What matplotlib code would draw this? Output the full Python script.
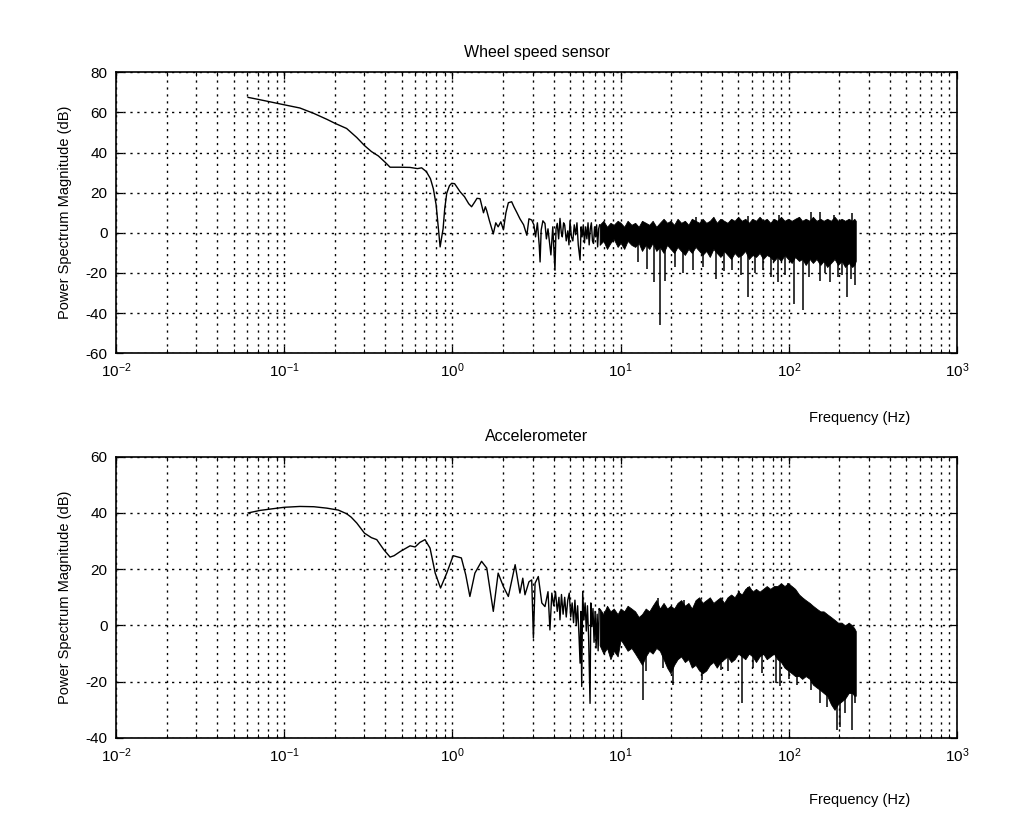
import numpy as np
import matplotlib
matplotlib.use("Agg")
import matplotlib.pyplot as plt
from matplotlib.ticker import LogLocator, FixedLocator

# -------- DATA --------
# smooth / sparse low-frequency part, wheel speed sensor
wheel_f = [0.061, 0.07, 0.08, 0.09, 0.10, 0.124, 0.15, 0.18, 0.20, 0.235,
           0.27, 0.30, 0.33, 0.363, 0.40, 0.426, 0.49, 0.56, 0.62, 0.656,
           0.70, 0.74, 0.77, 0.80, 0.83, 0.845, 0.86, 0.88, 0.90, 0.925,
           0.96, 0.99, 1.03, 1.06, 1.11, 1.18, 1.25, 1.30, 1.36, 1.40,
           1.46, 1.53, 1.57, 1.60, 1.66, 1.75, 1.81, 1.87, 1.94, 2.01,
           2.08, 2.15, 2.25, 2.32, 2.42, 2.52, 2.65, 2.77, 2.85, 2.96,
           3.05, 3.12, 3.20, 3.28, 3.32, 3.37, 3.45, 3.55, 3.62, 3.70,
           3.78, 3.85, 3.95, 4.07, 4.13, 4.20, 4.28, 4.36, 4.44, 4.50,
           4.58, 4.65, 4.75, 4.85, 4.93, 5.00, 5.10, 5.20, 5.30, 5.40,
           5.50, 5.60, 5.74, 5.82, 5.90, 6.00, 6.10, 6.20, 6.30, 6.40,
           6.50, 6.60, 6.70, 6.80, 6.90, 7.00, 7.10, 7.20, 7.30, 7.40,
           7.50]
wheel_db = [67.5, 66.5, 65.5, 64.6, 63.8, 62.2, 59.5, 56.5, 54.6, 52.0,
            47.5, 43.5, 40.5, 38.3, 35.0, 32.7, 32.7, 32.6, 32.0, 32.4,
            30.5, 27.0, 22.0, 14.0, 0.0, -7.0, -3.0, 2.0, 12.0, 19.7,
            23.5, 24.7, 24.5, 23.0, 20.5, 18.0, 14.5, 13.0, 15.5, 17.2,
            17.0, 10.0, 13.0, 11.0, 6.0, -0.5, 5.0, 3.0, 5.5, 1.5,
            10.0, 15.0, 15.5, 13.0, 10.0, 7.0, 4.0, -1.2, 7.0, 6.4,
            4.0, -2.0, 5.0, -6.0, -14.5, 1.4, 6.0, 4.7, -3.0, 2.0,
            -5.0, -11.0, 3.0, -18.6, 2.0, 4.7, -3.0, 7.2, 0.0, -2.0,
            5.0, 3.9, -4.0, 1.0, -6.0, 6.0, -2.0, -4.0, 4.0, -1.0,
            5.0, -6.0, -13.6, 3.0, -2.0, 4.0, -5.0, 3.0, -3.0, 5.0,
            -6.0, 2.0, 5.0, -4.0, -5.3, 3.0, -2.0, 4.0, -7.0, 2.0,
            4.0]

# smooth / sparse low-frequency part, accelerometer
accel_f = [0.061, 0.072, 0.086, 0.10, 0.124, 0.15, 0.179, 0.21, 0.235, 0.25,
           0.27, 0.30, 0.33, 0.355, 0.39, 0.426, 0.45, 0.49, 0.56, 0.60,
           0.64, 0.687, 0.736, 0.79, 0.85, 0.925, 1.01, 1.13, 1.20, 1.27,
           1.36, 1.49, 1.60, 1.68, 1.75, 1.87, 2.01, 2.15, 2.36, 2.52,
           2.62, 2.70, 2.85, 2.96, 3.03, 3.10, 3.24, 3.40, 3.55, 3.70,
           3.80, 3.90, 4.00, 4.10, 4.20, 4.30, 4.36, 4.45, 4.55, 4.65,
           4.75, 4.85, 4.95, 5.05, 5.15, 5.25, 5.35, 5.45, 5.55, 5.65,
           5.74, 5.80, 5.87, 5.95, 6.05, 6.15, 6.25, 6.35, 6.45, 6.58,
           6.65, 6.75, 6.85, 6.95, 7.05, 7.15, 7.25, 7.35, 7.45, 7.50]
accel_db = [40.0, 40.9, 41.5, 42.0, 42.3, 42.2, 41.7, 41.0, 39.7, 38.5,
            36.4, 32.8, 31.2, 30.5, 27.0, 24.3, 24.8, 26.3, 28.3, 27.9,
            29.5, 30.5, 27.5, 18.6, 13.3, 18.6, 24.8, 24.0, 18.0, 10.3,
            18.6, 22.8, 20.4, 12.0, 5.0, 18.6, 13.8, 10.3, 21.6, 11.5,
            16.8, 10.9, 15.5, 16.2, -4.5, 15.0, 17.4, 8.0, 6.7, 12.0,
            -1.6, 11.5, 7.0, 12.0, 5.0, 10.0, 2.0, 11.0, 4.0, 10.0,
            3.0, 9.0, 11.5, 3.0, 8.0, 1.0, 9.0, 0.0, 7.0, -3.0,
            -13.4, 5.0, -21.7, 12.1, 2.0, 8.0, -2.0, 7.0, -4.0, -27.7,
            8.0, -0.4, 6.0, -6.0, 5.0, -8.0, 4.0, -9.0, 6.0, 5.6]

# dense part: frequencies where the band's top and bottom edges were read
band_f = [7.5, 7.9, 8.3, 8.7, 9.1, 9.6, 10.0, 10.5, 11.0, 11.6,
          12.2, 12.8, 13.4, 14.1, 14.8, 15.5, 16.3, 17.1, 18.0, 18.9,
          19.8, 20.8, 21.8, 22.9, 24.1, 25.3, 26.5, 27.9, 29.3, 30.7,
          32.3, 33.9, 35.6, 37.3, 39.2, 41.2, 43.2, 45.4, 47.6, 50.0,
          52.5, 55.1, 57.9, 60.8, 63.8, 67.0, 70.4, 73.9, 77.6, 81.5,
          85.5, 89.8, 94.3, 99.0, 104, 109, 115, 120, 126, 133,
          139, 146, 154, 161, 169, 178, 187, 196, 206, 216,
          227, 238, 245, 250]

wheel_hi = [4, 6, 3, 5, 4, 6, 5, 3, 6, 4,
            5, 3, 6, 5, 4, 6, 3, 5, 7, 5,
            6, 4, 7, 5, 6, 4, 7, 6, 5, 7,
            5, 6, 8, 5, 7, 6, 5, 7, 6, 8,
            6, 7, 5, 7, 6, 8, 6, 7, 5, 7,
            6, 8, 6, 7, 6, 7, 8, 6, 7, 6,
            8, 6, 7, 6, 7, 6, 8, 6, 7, 6,
            7, 6, 7, 6]
wheel_lo = [-6, -4, -8, -5, -3, -7, -5, -8, -4, -6,
            -7, -5, -9, -6, -8, -5, -9, -7, -10, -6,
            -8, -10, -7, -9, -11, -8, -10, -7, -9, -11,
            -9, -12, -8, -10, -12, -9, -11, -13, -10, -12,
            -11, -9, -13, -11, -12, -10, -13, -11, -12, -14,
            -12, -14, -11, -13, -15, -12, -14, -13, -16, -13,
            -15, -13, -16, -14, -17, -15, -13, -16, -14, -17,
            -15, -17, -16, -14]

accel_hi = [6, 4, 7, 5, 6, 4, 6, 5, 7, 6,
            5, 3, 4, 6, 5, 7, 9, 6, 8, 6,
            7, 6, 8, 9, 7, 8, 6, 9, 10, 8,
            9, 10, 8, 9, 10, 8, 10, 11, 10, 12,
            11, 13, 14, 12, 13, 12, 13, 14, 13, 14,
            14, 15, 14, 15, 14, 13, 11, 10, 9, 8,
            7, 6, 5, 5, 4, 3, 2, 1, 1, 0,
            1, 0, -1, -2]
accel_lo = [-7, -10, -8, -12, -9, -11, -5, -7, -9, -8,
            -10, -12, -14, -11, -9, -10, -8, -9, -12, -15,
            -17, -14, -12, -11, -13, -12, -15, -14, -16, -17,
            -16, -14, -13, -15, -13, -12, -11, -13, -12, -10,
            -11, -12, -10, -11, -13, -11, -10, -12, -11, -10,
            -12, -13, -15, -16, -17, -18, -18, -19, -18, -19,
            -21, -22, -23, -24, -25, -28, -30, -28, -27, -26,
            -24, -24, -25, -25]

# isolated deep notches and peaks sticking out of the band
wheel_dip_f = [12.7, 14.3, 15.8, 17.2, 18.4, 21.0, 23.5, 26.9, 31.0, 36.7,
               41.0, 46.0, 52.0, 57.4, 63.0, 70.5, 78.0, 86.0, 95.0, 108,
               121, 132, 153, 165, 176, 195, 208, 222, 235, 248]
wheel_dip_db = [-14.5, -18, -24.5, -46, -24, -17, -20, -18.6, -17, -22.8,
                -19, -18.6, -21, -32, -20, -18.6, -22, -24.5, -21, -35.3,
                -38.6, -22, -24, -20, -24.5, -22, -21, -32, -23, -26]
wheel_peak_f = [28, 57, 88, 136, 153, 185, 237]
wheel_peak_db = [8, 8.5, 9, 10.5, 10.5, 9, 9.7]

accel_dip_f = [13.6, 14.1, 17.9, 20.4, 30.4, 39.5, 43.6, 52.6, 61, 69,
               83.5, 88.7, 100, 112, 136, 153, 168, 194, 201, 215,
               238, 248]
accel_dip_db = [-26.5, -16.3, -15, -21, -19.4, -16, -16.3, -27.7, -15, -17,
                -20.5, -21.7, -19, -21, -22.9, -27.7, -29, -37.2, -36, -31,
                -37.2, -27.7]
accel_peak_f = [16.6, 23.9, 50.3, 57, 92, 98.6]
accel_peak_db = [9.7, 9.1, 12.1, 13.8, 14.5, 15]

panels = [
    dict(title="Wheel speed sensor", f=wheel_f, db=wheel_db, hi=wheel_hi, lo=wheel_lo,
         dip_f=wheel_dip_f, dip_db=wheel_dip_db, peak_f=wheel_peak_f, peak_db=wheel_peak_db,
         base=0.0, ylim=(-60, 80), rect=[0.1133, 0.566, 0.8213, 0.3452], xlab_y=-0.205),
    dict(title="Accelerometer", f=accel_f, db=accel_db, hi=accel_hi, lo=accel_lo,
         dip_f=accel_dip_f, dip_db=accel_dip_db, peak_f=accel_peak_f, peak_db=accel_peak_db,
         base=-5.0, ylim=(-40, 60), rect=[0.1133, 0.0934, 0.8213, 0.3456], xlab_y=-0.195),
]
# -------------------------------------------------

plt.rcParams["font.family"] = ["Liberation Sans", "DejaVu Sans"]
plt.rcParams["axes.unicode_minus"] = False
plt.rcParams["mathtext.fontset"] = "custom"
plt.rcParams["mathtext.rm"] = "Liberation Sans"

fig = plt.figure(figsize=(10.24, 8.14), dpi=100, facecolor="white")
grid_style = dict(color="black", linestyle=(0, (1.6, 3.4)), linewidth=1.0)

for p in panels:
    ax = fig.add_axes(p["rect"])
    ax.set_xscale("log")

    ax.plot(p["f"], p["db"], color="black", linewidth=1.0)
    ax.fill_between(band_f, p["lo"], p["hi"], color="black", linewidth=0.6, edgecolor="black")
    ax.vlines(p["dip_f"], p["base"], p["dip_db"], color="black", linewidth=1.1)
    ax.vlines(p["peak_f"], p["base"], p["peak_db"], color="black", linewidth=1.1)

    ax.set_xlim(1e-2, 1e3)
    ax.set_ylim(*p["ylim"])
    ax.yaxis.set_major_locator(FixedLocator(np.arange(p["ylim"][0], p["ylim"][1] + 1, 20)))
    ax.xaxis.set_major_locator(LogLocator(base=10, numticks=10))
    ax.xaxis.set_minor_locator(LogLocator(base=10, subs=np.arange(2, 10), numticks=20))

    ax.grid(True, which="major", axis="both", **grid_style)
    ax.grid(True, which="minor", axis="x", **grid_style)
    ax.set_axisbelow(True)

    ax.tick_params(which="both", direction="in", top=True, right=True, labelsize=11)
    ax.tick_params(which="major", length=5, width=0.9, pad=6)
    ax.tick_params(which="minor", length=3, width=0.7)
    for sp in ax.spines.values():
        sp.set_linewidth(1.2)

    ax.set_title(p["title"], fontsize=11.5, pad=11)
    ax.set_ylabel("Power Spectrum Magnitude (dB)", fontsize=10.5)
    ax.yaxis.set_label_coords(-0.052, 0.5)
    ax.set_xlabel("Frequency (Hz)", fontsize=10.5)
    ax.xaxis.set_label_coords(0.884, p["xlab_y"])

fig.savefig("out.png", dpi=100, facecolor="white")
